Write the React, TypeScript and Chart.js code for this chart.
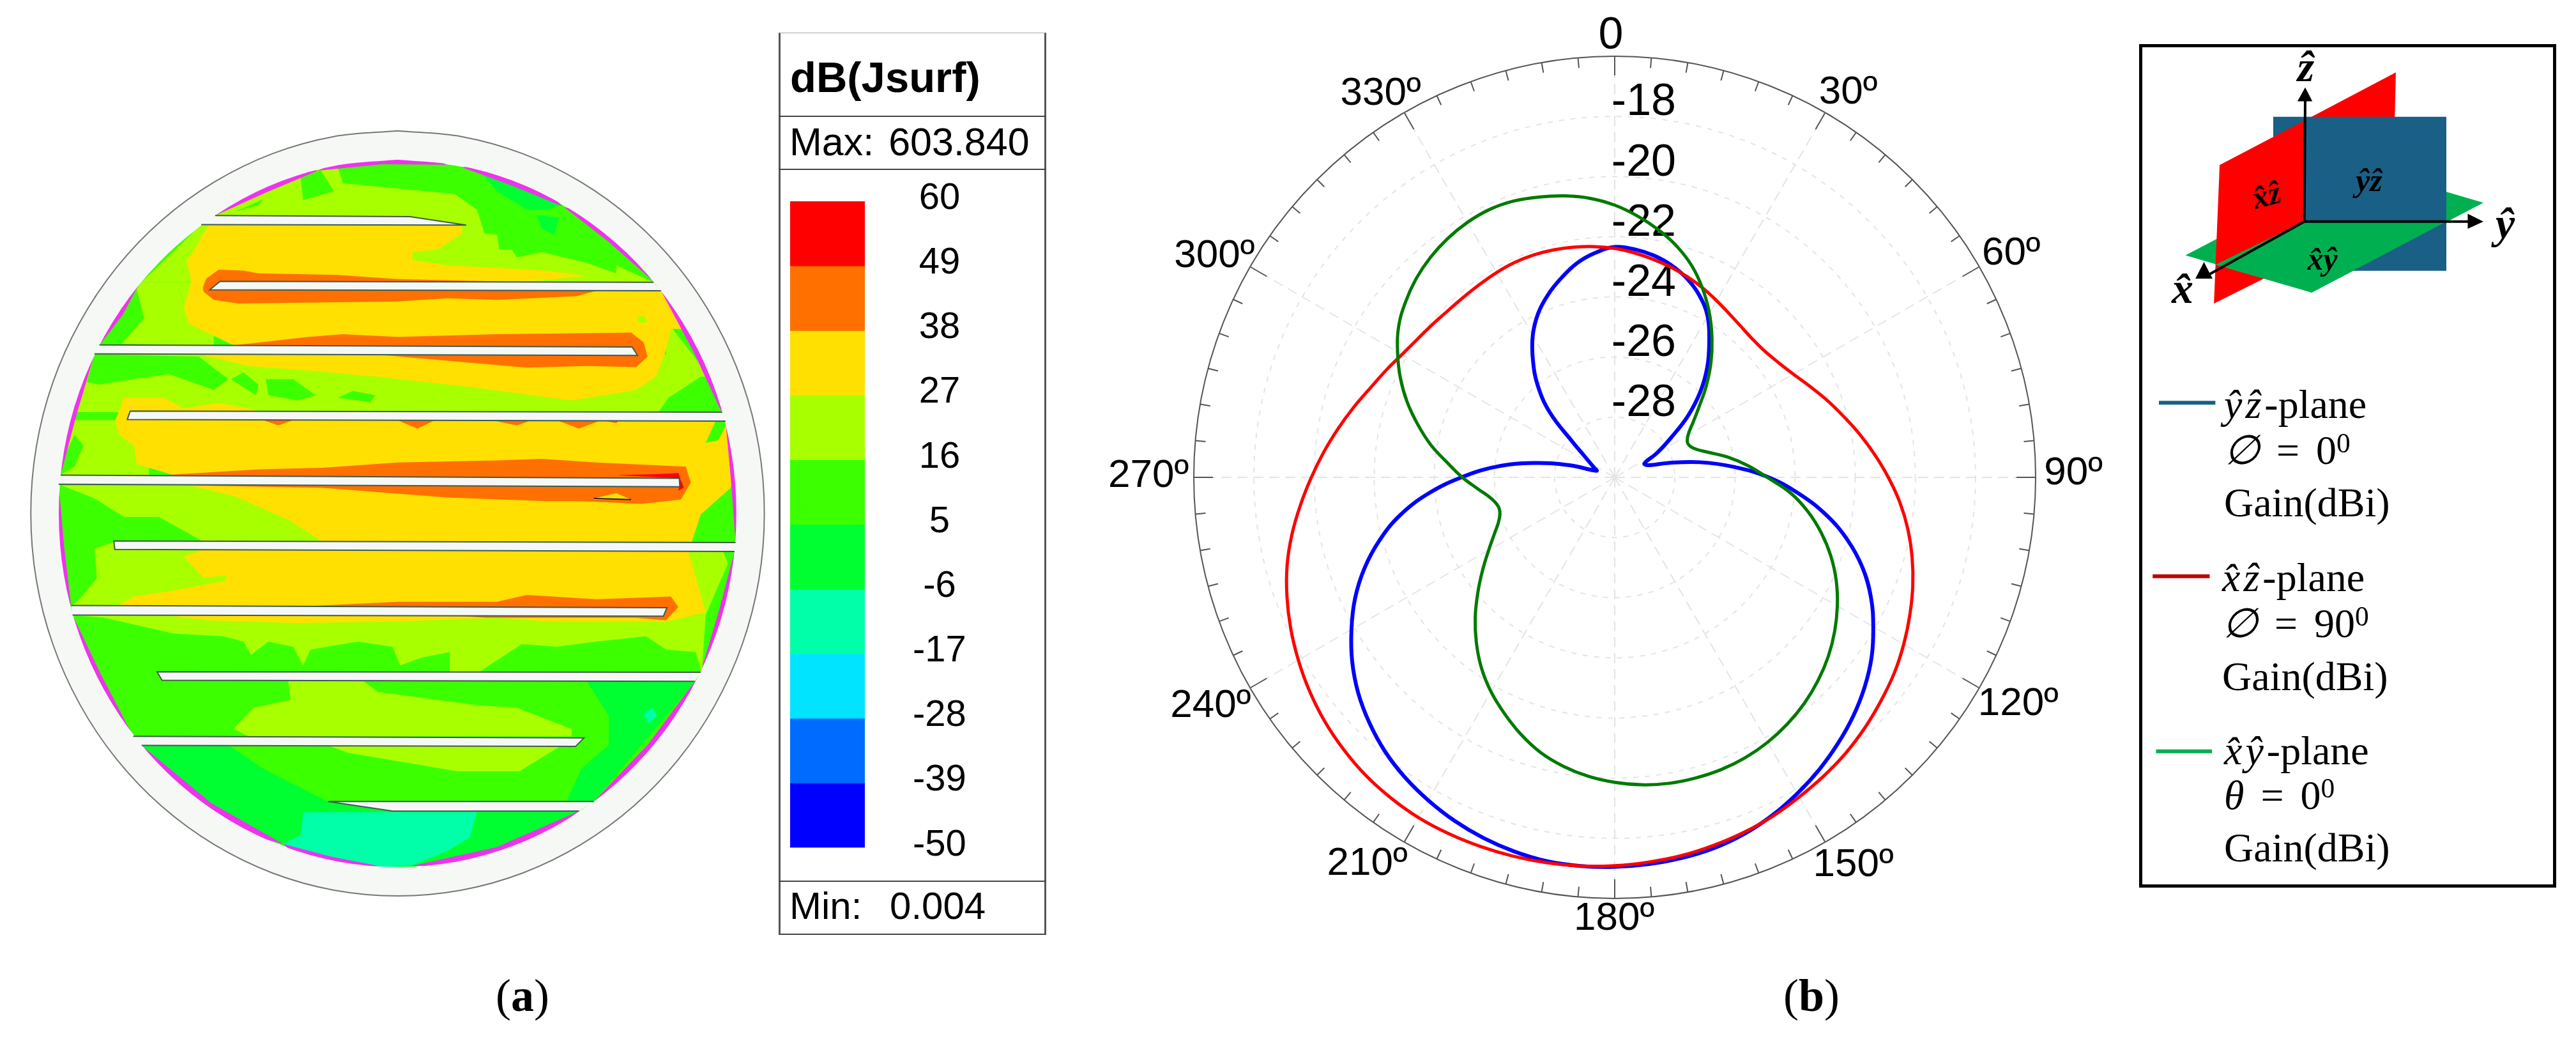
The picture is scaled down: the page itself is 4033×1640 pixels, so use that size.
import React, { useEffect, useRef } from "react";
import { Chart, registerables } from "chart.js";

Chart.register(...registerables);

/* ---------- radiation pattern (dB, one value every 5 degrees, clockwise from the top) ---------- */
const angleCategories = Array.from({ length: 72 }, (_, i) => String(i * 5));
const radialTicks = [-18, -20, -22, -24, -26, -28];
const angleTickLabels = ["0", "30º", "60º", "90º", "120º", "150º", "180º", "210º", "240º", "270º", "300º", "330º"];

const redGain = [
  -22.39, -22.51, -22.64, -22.77, -22.91, -23.06, -23.22, -23.36, -23.46, -23.51, -23.48, -23.35,
  -23.14, -22.84, -22.49, -22.13, -21.73, -21.32, -20.9, -20.48, -20.1, -19.76, -19.45, -19.17,
  -18.9, -18.65, -18.44, -18.23, -18.04, -17.88, -17.73, -17.57, -17.44, -17.33, -17.23, -17.16,
  -17.09, -17.03, -16.99, -16.96, -16.94, -16.93, -16.94, -17.0, -17.09, -17.23, -17.4, -17.61,
  -17.85, -18.11, -18.4, -18.72, -19.1, -19.51, -19.91, -20.29, -20.66, -21.01, -21.34, -21.6,
  -21.83, -21.99, -22.09, -22.16, -22.18, -22.17, -22.14, -22.12, -22.13, -22.17, -22.23, -22.3,
];
const blueGain = [
  -22.34, -22.39, -22.51, -22.7, -22.97, -23.33, -23.82, -24.52, -25.21, -25.97, -26.82, -27.73,
  -28.37, -28.91, -28.82, -28.15, -27.11, -26.02, -24.88, -23.86, -22.87, -21.99, -21.23, -20.6,
  -20.07, -19.57, -19.15, -18.78, -18.45, -18.14, -17.86, -17.6, -17.39, -17.24, -17.15, -17.09,
  -17.05, -17.03, -17.04, -17.12, -17.24, -17.4, -17.6, -17.83, -18.11, -18.46, -18.86, -19.34,
  -19.89, -20.47, -21.14, -21.9, -22.75, -23.77, -24.9, -26.02, -27.25, -28.44, -29.36, -29.25,
  -29.07, -28.78, -28.17, -26.95, -26.02, -25.26, -24.55, -23.98, -23.53, -23.14, -22.77, -22.51,
];
const greenGain = [
  -20.95, -21.28, -21.64, -22.04, -22.51, -23.08, -23.7, -24.36, -25.02, -25.69, -26.33, -26.82,
  -27.18, -27.32, -27.19, -26.78, -26.16, -25.55, -24.93, -24.14, -23.48, -22.89, -22.35, -21.87,
  -21.45, -21.07, -20.73, -20.44, -20.19, -19.99, -19.83, -19.72, -19.66, -19.65, -19.67, -19.74,
  -19.86, -20.02, -20.24, -20.52, -20.9, -21.33, -21.77, -22.27, -22.84, -23.44, -24.06, -24.64,
  -25.16, -25.59, -25.91, -26.02, -25.85, -25.45, -24.93, -24.41, -23.79, -23.22, -22.65, -22.13,
  -21.66, -21.23, -20.92, -20.66, -20.46, -20.31, -20.21, -20.17, -20.22, -20.35, -20.5, -20.69,
];

/* ---------- colour scale ---------- */
const bandEdges = [60, 49, 38, 27, 16, 5, -6, -17, -28, -39, -50];
const bandColors = ["#ff0000", "#ff7000", "#ffe000", "#a8ff00", "#3cff00", "#00ff30", "#00ffa8", "#00e4ff", "#006cff", "#0000ff"];

/* ---------- current map regions, in a 0..1568 grid over the disk ---------- */
type Pts = number[][];
const unitRing: Pts = [
  [0, 1], [0.174, 0.985], [0.342, 0.94], [0.5, 0.866], [0.643, 0.766], [0.766, 0.643], [0.866, 0.5], [0.94, 0.342], [0.985, 0.174],
  [1, 0], [0.985, -0.174], [0.94, -0.342], [0.866, -0.5], [0.766, -0.643], [0.643, -0.766], [0.5, -0.866], [0.342, -0.94], [0.174, -0.985],
  [0, -1], [-0.174, -0.985], [-0.342, -0.94], [-0.5, -0.866], [-0.643, -0.766], [-0.766, -0.643], [-0.866, -0.5], [-0.94, -0.342], [-0.985, -0.174],
  [-1, 0], [-0.985, 0.174], [-0.94, 0.342], [-0.866, 0.5], [-0.766, 0.643], [-0.643, 0.766], [-0.5, 0.866], [-0.342, 0.94], [-0.174, 0.985],
  [0, 1],
];
const teal: Pts[] = [
  [[610, 1352], [960, 1352], [945, 1400], [900, 1425], [830, 1452], [760, 1458], [640, 1435], [570, 1412], [605, 1395]],
  [[1295, 1165], [1312, 1155], [1322, 1170], [1305, 1185]],
];
const green2: Pts[] = [
  [[960, 135], [1130, 205], [1100, 215], [1060, 215], [1000, 180]],
  [[1080, 225], [1125, 230], [1115, 262], [1090, 250]],
  [[1180, 1104], [1400, 1104], [1195, 1332], [1140, 1332], [1170, 1270], [1225, 1225], [1225, 1170]],
  [[285, 1226], [460, 1226], [530, 1270], [660, 1332], [790, 1350], [1165, 1350], [1030, 1415], [900, 1445], [800, 1460], [570, 1412], [420, 1340]],
  [[225, 1045], [275, 1030], [280, 1065], [225, 1080]],
];
const yellowGreen: Pts[] = [
  [[433, 226], [600, 150], [640, 135], [680, 135], [690, 165], [915, 185], [960, 215], [975, 260], [1000, 262], [1005, 290], [1030, 290], [1040, 305], [1090, 295], [1180, 315], [1240, 335], [1240, 320], [1315, 352], [285, 352], [405, 243]],
  [[285, 352], [430, 352], [430, 471], [245, 468], [290, 420], [275, 365]],
  [[190, 488], [1340, 488], [1345, 430], [1420, 520], [1455, 597], [130, 597], [160, 540]],
  [[120, 612], [300, 612], [300, 716], [120, 716]],
  [[118, 735], [700, 735], [700, 963], [143, 963]],
  [[1380, 842], [1480, 842], [1475, 860], [1420, 980], [1380, 980]],
  [[145, 980], [1420, 980], [1412, 1088], [145, 1088]],
  [[580, 1104], [730, 1104], [760, 1125], [960, 1150], [1040, 1155], [1150, 1195], [1150, 1209], [500, 1209], [470, 1195], [510, 1155], [585, 1140]],
  [[660, 1226], [1130, 1226], [1045, 1275], [920, 1275], [700, 1240]],
];
const greenPatches: Pts[] = [
  [[605, 155], [645, 140], [672, 180], [610, 197]],
  [[470, 220], [530, 195], [520, 206]],
  [[190, 488], [400, 492], [460, 535], [430, 555], [340, 525], [265, 535], [200, 545], [175, 540]],
  [[465, 535], [490, 522], [520, 545], [515, 565]],
  [[535, 535], [590, 535], [635, 565], [600, 575], [540, 565]],
  [[680, 570], [710, 557], [755, 565], [745, 578]],
  [[1325, 597], [1345, 570], [1410, 530], [1430, 530], [1455, 597]],
  [[120, 716], [130, 680], [150, 640], [168, 660], [150, 700]],
  [[118, 733], [190, 760], [250, 795], [320, 795], [410, 842], [230, 842], [190, 855], [195, 910], [160, 950], [143, 963], [118, 840]],
  [[1455, 860], [1478, 860], [1470, 895]],
  [[145, 980], [210, 985], [350, 1015], [450, 1020], [490, 1030], [505, 1055], [540, 1030], [590, 1040], [610, 1075], [625, 1045], [720, 1030], [790, 1040], [805, 1075], [850, 1060], [905, 1050], [905, 1090], [145, 1090]],
  [[960, 1090], [1050, 1035], [1120, 1040], [1200, 1030], [1300, 1020], [1340, 1045], [1400, 1050], [1412, 1090]],
];
const yellow: Pts[] = [
  [[420, 243], [930, 243], [930, 260], [880, 290], [830, 295], [830, 310], [900, 320], [1100, 330], [1180, 340], [1040, 352], [1330, 352], [1345, 380], [1385, 440], [1350, 440], [1340, 480], [1320, 530], [1280, 555], [1150, 575], [950, 550], [760, 530], [640, 520], [500, 510], [410, 490], [470, 471], [380, 430], [370, 400], [385, 350], [375, 310], [385, 300]],
  [[232, 612], [250, 570], [330, 570], [370, 590], [440, 580], [500, 590], [530, 598], [1440, 598], [1440, 614], [1420, 655], [1445, 650], [1462, 620], [1482, 700], [1470, 740], [1410, 790], [1392, 842], [1385, 860], [1420, 975], [1340, 992], [1100, 992], [1000, 985], [800, 992], [600, 995], [420, 990], [330, 980], [235, 963], [270, 945], [340, 935], [415, 922], [455, 915], [455, 905], [410, 910], [370, 870], [405, 858], [650, 842], [580, 800], [470, 755], [380, 735], [350, 716], [275, 695], [270, 660], [240, 640]],
];
const yellowGreenSpots: Pts[] = [
  [[1283, 418], [1295, 414], [1303, 428], [1285, 428]],
];
const orange: Pts[] = [
  [[408, 362], [415, 345], [440, 328], [490, 330], [520, 335], [680, 338], [800, 346], [1000, 350], [1040, 352], [1000, 366], [1200, 368], [1160, 378], [1000, 385], [900, 382], [800, 388], [650, 390], [480, 392], [430, 385], [410, 370]],
  [[470, 471], [620, 455], [690, 450], [800, 455], [1000, 450], [1270, 447], [1295, 465], [1303, 492], [1280, 512], [1180, 510], [1060, 513], [900, 500], [780, 490]],
  [[530, 612], [560, 622], [590, 612]],
  [[800, 612], [840, 628], [875, 612]],
  [[990, 612], [1040, 622], [1070, 612]],
  [[1120, 612], [1165, 628], [1210, 612], [1240, 618], [1245, 612]],
  [[330, 716], [520, 705], [650, 702], [800, 692], [1000, 688], [1090, 685], [1200, 692], [1380, 700], [1390, 730], [1370, 762], [1290, 770], [1170, 765], [1100, 765], [900, 758], [650, 740], [380, 735]],
  [[620, 963], [800, 955], [1000, 955], [1060, 942], [1200, 950], [1350, 945], [1365, 965], [1340, 990], [1280, 985], [1100, 985], [980, 985]],
];
const yellowPatch: Pts[] = [[[1195, 760], [1240, 750], [1270, 762], [1195, 762]]];
const red: Pts[] = [[[1240, 716], [1320, 714], [1365, 712], [1376, 740], [1365, 745], [1370, 722]]];
const magentaCrescents: Pts[] = [
  [[930, 135], [1032, 170], [1130, 208], [1052, 115]],
  [[1135, 210], [1225, 276], [1315, 350], [1270, 240]],
  [[1330, 368], [1396, 484], [1452, 597], [1446, 457]],
  [[1460, 614], [1471, 728], [1480, 842], [1530, 728]],
  [[1478, 860], [1447, 971], [1410, 1088], [1499, 994]],
  [[1398, 1105], [1304, 1224], [1195, 1332], [1341, 1258]],
  [[1165, 1350], [999, 1418], [830, 1453], [1017, 1461]],
  [[760, 1453], [666, 1436], [570, 1412], [655, 1487]],
  [[570, 1412], [425, 1335], [285, 1226], [392, 1369]],
  [[268, 1209], [202, 1090], [146, 980], [152, 1124]],
  [[143, 962], [129, 850], [118, 733], [70, 852]],
  [[122, 716], [154, 602], [190, 488], [98, 587]],
  [[200, 471], [247, 413], [280, 355], [190, 378]],
  [[433, 226], [534, 183], [640, 141], [511, 125]],
  [[640, 141], [770, 129], [900, 130], [770, 81]],
];
const slots: Pts[] = [
  [[433, 226], [825, 228], [938, 244], [405, 243]],
  [[1315, 352], [443, 350], [422, 366], [1330, 368]],
  [[200, 470], [1272, 474], [1283, 490], [190, 487]],
  [[1453, 597], [262, 595], [256, 611], [1460, 614]],
  [[122, 716], [1367, 722], [1368, 738], [118, 733]],
  [[1480, 843], [229, 840], [231, 856], [1478, 860]],
  [[143, 962], [1342, 966], [1335, 982], [146, 980]],
  [[1410, 1088], [316, 1087], [326, 1103], [1398, 1105]],
  [[268, 1209], [1175, 1212], [1158, 1228], [285, 1226]],
  [[1195, 1332], [660, 1332], [790, 1350], [1165, 1350]],
];

/* ---------- axes sketch, in a 0..1568 grid over the legend ---------- */
const planeGreen: Pts = [[205, 403], [807, 241], [1250, 308], [648, 470]];
const planeGreenFront: Pts = [[622, 342], [1120, 342], [648, 470], [310, 420]];
const planeRedBack: Pts = [[622, 160], [943, 73], [930, 345], [622, 345]];
const planeRedFront: Pts = [[325, 240], [622, 160], [622, 345], [480, 445], [305, 490]];
const planeBlue: Pts = [[513, 153], [1120, 153], [1120, 431], [513, 431]];
const axisZ: Pts = [[622, 342], [625, 120]];
const axisY: Pts = [[622, 342], [1200, 342]];
const axisX: Pts = [[622, 342], [290, 437]];
const headZ: Pts = [[598, 125], [650, 125], [625, 100]];
const headY: Pts = [[1195, 328], [1195, 355], [1250, 342]];
const headX: Pts = [[300, 445], [270, 415], [240, 445]];
const keyBlue: Pts = [[112, 669], [310, 669]];
const keyRed: Pts = [[90, 982], [290, 982]];
const keyGreen: Pts = [[102, 1298], [298, 1298]];

const PANEL_GREY = "#f5f8f5";
const toXY = (p: Pts) => p.map(([x, y]) => ({ x, y }));
const ellipse = (rx: number, ry: number) => unitRing.map(([s, c]) => ({ x: 800 + rx * s, y: 788 - ry * c }));
const area = (color: string, pts: Pts) => ({
  data: toXY(pts), showLine: true, fill: "shape", backgroundColor: color, borderColor: "transparent", borderWidth: 0, pointRadius: 0, tension: 0,
});
const stroke = (color: string, pts: Pts, w: number) => ({
  data: toXY(pts), showLine: true, fill: false, borderColor: color, borderWidth: w, pointRadius: 0, tension: 0,
});
const ringFill = (color: string, rx: number, ry: number) => ({
  data: ellipse(rx, ry), showLine: true, fill: "shape", backgroundColor: color, borderColor: "transparent", borderWidth: 0, pointRadius: 0, tension: 0.35,
});
const ringLine = (color: string, rx: number, ry: number, w: number) => ({
  data: ellipse(rx, ry), showLine: true, fill: false, borderColor: color, borderWidth: w, pointRadius: 0, tension: 0.35,
});

const sketchOptions = () => ({
  responsive: false, animation: false as const, devicePixelRatio: 1, events: [] as any[],
  layout: { padding: 0 },
  plugins: { legend: { display: false }, tooltip: { enabled: false }, title: { display: false } },
  scales: {
    x: { type: "linear", min: 0, max: 1568, display: false },
    y: { type: "linear", min: 0, max: 1568, reverse: true, display: false },
  },
});

const polarMarks = {
  id: "polarMarks",
  beforeDatasetsDraw(chart: any) {
    const { ctx } = chart;
    const r = chart.scales.r;
    const R = r.drawingArea;
    ctx.save();
    ctx.strokeStyle = "#555555";
    ctx.lineWidth = 2;
    angleCategories.forEach((_, i) => {
      const len = i % 6 === 0 ? 30 : 16;
      const a = r.getPointPosition(i, R);
      const b = r.getPointPosition(i, R - len);
      ctx.beginPath();
      ctx.moveTo(a.x, a.y);
      ctx.lineTo(b.x, b.y);
      ctx.stroke();
    });
    ctx.fillStyle = "#000000";
    ctx.textBaseline = "middle";
    ctx.font = '70px "Liberation Sans"';
    ctx.textAlign = "right";
    radialTicks.forEach((v) => {
      const p = r.getPointPositionForValue(0, v);
      ctx.fillText(String(v), p.x + 96, p.y - 21);
    });
    const shifts = [[-6, -31], [36, -31], [50, -21], [59, -6], [61, 25], [44, 36], [-1, 32], [-58, 34], [-62, 28], [-71, -2], [-56, -17], [-37, -29]];
    ctx.textAlign = "center";
    angleTickLabels.forEach((t, k) => {
      const p = r.getPointPosition(k * 6, R);
      ctx.font = k === 0 ? '70px "Liberation Sans"' : '62px "Liberation Sans"';
      ctx.fillText(t, p.x + shifts[k][0], p.y + shifts[k][1]);
    });
    ctx.restore();
  },
};

const SERIF = '"Liberation Serif"';
const SANS = '"Liberation Sans"';

function T(props: { x: number; y: number; size: number; font?: string; bold?: boolean; italic?: boolean; rotate?: number; wordSpacing?: number; center?: boolean; children: React.ReactNode }) {
  const { x, y, size, font = SERIF, bold, italic, rotate = 0, wordSpacing = 0, center, children } = props;
  return (
    <div
      style={{
        position: "absolute", left: x, top: y, fontFamily: font, fontSize: size, lineHeight: 1, color: "#000",
        fontWeight: bold ? "bold" : "normal", fontStyle: italic ? "italic" : "normal", whiteSpace: "pre", wordSpacing,
        transform: `translate(${center ? "-50%" : "0"},-50%) rotate(${rotate}deg)`,
      }}
    >
      {children}
    </div>
  );
}

const I = (p: { children: React.ReactNode }) => <span style={{ fontStyle: "italic" }}>{p.children}</span>;
const Hats = (p: { children: React.ReactNode }) => <span style={{ fontStyle: "italic", letterSpacing: 5 }}>{p.children}</span>;
const Sup = (p: { children: React.ReactNode }) => <span style={{ fontSize: "0.68em", position: "relative", top: "-0.42em" }}>{p.children}</span>;
const HAT = "\u0302";

export default function App() {
  const diskRef = useRef<HTMLCanvasElement>(null);
  const barRef = useRef<HTMLCanvasElement>(null);
  const polarRef = useRef<HTMLCanvasElement>(null);
  const keyRef = useRef<HTMLCanvasElement>(null);

  useEffect(() => {
    const bottomFirst: any[] = [
      ringFill(PANEL_GREY, 738, 722),
      ringFill(bandColors[4], 682, 666),
      ...green2.map((p) => area(bandColors[5], p)),
      ...teal.map((p) => area(bandColors[6], p)),
      ...yellowGreen.map((p) => area(bandColors[3], p)),
      ...greenPatches.map((p) => area(bandColors[4], p)),
      ...yellow.map((p) => area(bandColors[2], p)),
      ...yellowGreenSpots.map((p) => area(bandColors[3], p)),
      ...orange.map((p) => area(bandColors[1], p)),
      ...yellowPatch.map((p) => area(bandColors[2], p)),
      ...red.map((p) => area(bandColors[0], p)),
      ...magentaCrescents.map((p) => area("#ee33ee", p)),
      ringLine(PANEL_GREY, 710, 694, 44),
      ringLine("#777777", 738, 722, 2),
      ...slots.map((p) => ({ ...area(PANEL_GREY, p), borderColor: "#3f5a50", borderWidth: 2 })),
      stroke("#222222", [[1195, 760], [1270, 762]], 2),
    ];
    const disk = new Chart(diskRef.current!, {
      type: "scatter",
      data: { datasets: bottomFirst.slice().reverse() },
      options: sketchOptions() as any,
    });

    const bar = new Chart(barRef.current!, {
      type: "bar",
      data: {
        labels: ["dB"],
        datasets: bandColors.map((c, i) => ({
          data: [[bandEdges[i + 1], bandEdges[i]]] as any,
          backgroundColor: c, borderWidth: 0, barPercentage: 1, categoryPercentage: 1, grouped: false,
        })),
      },
      options: {
        responsive: false, animation: false, devicePixelRatio: 1, events: [],
        layout: { autoPadding: false, padding: { top: 60, bottom: 28.5, left: 0, right: 0 } },
        plugins: { legend: { display: false }, tooltip: { enabled: false } },
        scales: {
          x: { display: false },
          y: {
            position: "right", min: -50, max: 60,
            afterFit: (s: any) => { s.width = 183; s.paddingTop = 0; s.paddingBottom = 0; },
            grid: { display: false, drawTicks: false }, border: { display: false },
            ticks: {
              stepSize: 11, autoSkip: false, padding: 75, crossAlign: "center", labelOffset: -4, color: "#000",
              font: { family: "Liberation Sans", size: 58 }, callback: (v: any) => String(v),
            },
          },
        },
      } as any,
    });

    const polar = new Chart(polarRef.current!, {
      type: "radar",
      data: {
        labels: angleCategories,
        datasets: [
          { label: "xy-plane", data: greenGain, borderColor: "#007a00", borderWidth: 5, pointRadius: 0, fill: false, tension: 0.4 },
          { label: "xz-plane", data: redGain, borderColor: "#ff0000", borderWidth: 5, pointRadius: 0, fill: false, tension: 0.4 },
          { label: "yz-plane", data: blueGain, borderColor: "#0000ff", borderWidth: 6, pointRadius: 0, fill: false, tension: 0.4 },
        ],
      },
      options: {
        responsive: false, animation: false, devicePixelRatio: 1, events: [],
        layout: { padding: { left: 169, right: 213, top: 88, bottom: 94 } },
        plugins: { legend: { display: false }, tooltip: { enabled: false } },
        scales: {
          r: {
            min: -30, max: -16,
            ticks: { stepSize: 2, display: false },
            pointLabels: { display: false },
            grid: {
              circular: true,
              color: (c: any) => (c.tick && c.tick.value === -16 ? "#555555" : "#e4e4e4"),
              lineWidth: 2,
            },
            border: { dash: (c: any) => (c.tick && c.tick.value === -16 ? [] : [8, 10]) },
            angleLines: {
              color: "#e4e4e4", borderDash: [16, 9],
              lineWidth: (c: any) => (c.index % 6 === 0 ? 2 : 0),
            },
          },
        },
      } as any,
      plugins: [polarMarks],
    });

    const keyFirst: any[] = [
      area("#00b050", planeGreen),
      area("#ff0000", planeRedBack),
      area("#1a5f85", planeBlue),
      area("#ff0000", planeRedFront),
      area("#00b050", planeGreenFront),
      stroke("#000000", axisZ, 4),
      stroke("#000000", axisY, 4),
      stroke("#000000", axisX, 4),
      area("#000000", headZ),
      area("#000000", headY),
      area("#000000", headX),
      stroke("#1a5f85", keyBlue, 6),
      stroke("#c00000", keyRed, 6),
      stroke("#00b050", keyGreen, 6),
    ];
    const key = new Chart(keyRef.current!, {
      type: "scatter",
      data: { datasets: keyFirst.slice().reverse() },
      options: sketchOptions() as any,
    });

    return () => { disk.destroy(); bar.destroy(); polar.destroy(); key.destroy(); };
  }, []);

  const cv = (left: number, top: number): React.CSSProperties => ({ position: "absolute", left, top, display: "block" });
  const rule = (top: number): React.CSSProperties => ({ position: "absolute", left: 1219, width: 419, top, height: 0, borderTop: "2px solid #444" });

  return (
    <div style={{ position: "absolute", left: 0, top: 0, width: 4033, height: 1640, overflow: "hidden", background: "#fff" }}>
      <canvas ref={diskRef} width={1220} height={1300} style={cv(0, 150)} />

      <div style={{ position: "absolute", left: 1219, top: 51, width: 419, height: 1412, boxSizing: "border-box", borderLeft: "3px solid #555", borderRight: "3px solid #555", borderTop: "1px solid #aaa", borderBottom: "2px solid #444" }} />
      <div style={rule(181)} />
      <div style={rule(264)} />
      <div style={rule(1378)} />
      <T x={1237} y={120} size={67} font={SANS} bold>dB(Jsurf)</T>
      <T x={1236} y={222} size={61} font={SANS} wordSpacing={6}>Max: 603.840</T>
      <T x={1236} y={1418} size={60} font={SANS} wordSpacing={27}>Min: 0.004</T>
      <canvas ref={barRef} width={300} height={1100} style={cv(1237, 255)} />

      <canvas ref={polarRef} width={1700} height={1500} style={cv(1700, 0)} />

      <div style={{ position: "absolute", left: 3349, top: 69, width: 653, height: 1320, boxSizing: "border-box", border: "5px solid #000" }} />
      <canvas ref={keyRef} width={700} height={1360} style={cv(3330, 50)} />
      <T x={3610} y={104} size={68} bold italic center>{"z" + HAT}</T>
      <T x={3922} y={350} size={68} bold italic center>{"y" + HAT}</T>
      <T x={3417} y={451} size={68} bold italic center>{"x" + HAT}</T>
      <T x={3548} y={305} size={50} bold italic center rotate={-15}>{"x" + HAT + "z" + HAT}</T>
      <T x={3709} y={282} size={50} bold italic center>{"y" + HAT + "z" + HAT}</T>
      <T x={3636} y={405} size={50} bold italic center>{"x" + HAT + "y" + HAT}</T>

      <T x={3482} y={633} size={64}><Hats>{"y" + HAT + "z" + HAT}</Hats>-plane</T>
      <T x={3482} y={705} size={64} wordSpacing={10}><I>∅</I> = 0<Sup>0</Sup></T>
      <T x={3482} y={787} size={64}>Gain(dBi)</T>
      <T x={3479} y={904} size={64}><Hats>{"x" + HAT + "z" + HAT}</Hats>-plane</T>
      <T x={3479} y={976} size={64} wordSpacing={10}><I>∅</I> = 90<Sup>0</Sup></T>
      <T x={3479} y={1059} size={64}>Gain(dBi)</T>
      <T x={3482} y={1175} size={64}><Hats>{"x" + HAT + "y" + HAT}</Hats>-plane</T>
      <T x={3482} y={1245} size={64} wordSpacing={10}><I>θ</I> = 0<Sup>0</Sup></T>
      <T x={3482} y={1327} size={64}>Gain(dBi)</T>

      <T x={818} y={1558} size={72} center>(<b>a</b>)</T>
      <T x={2836} y={1558} size={72} center>(<b>b</b>)</T>
    </div>
  );
}
